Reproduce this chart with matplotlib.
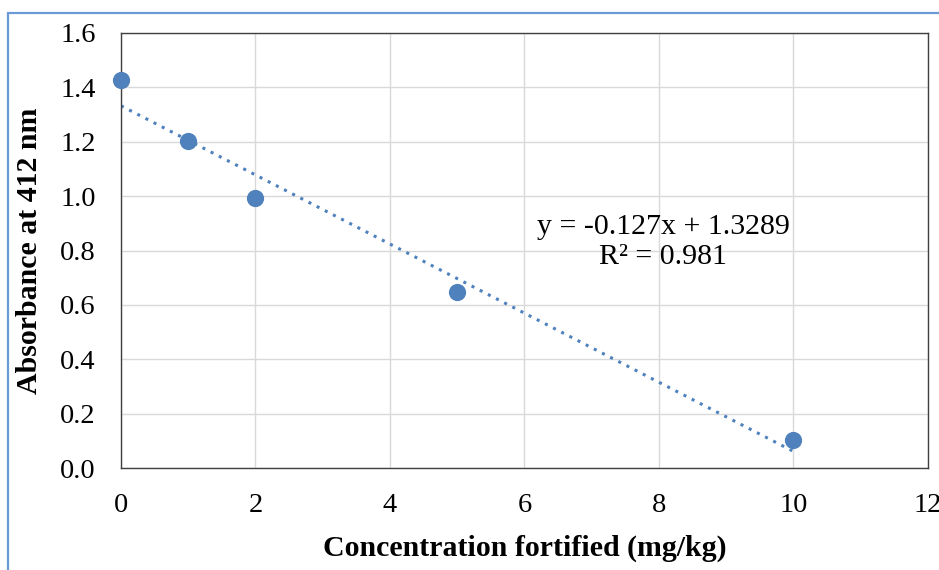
import matplotlib.pyplot as plt
from matplotlib.patches import Rectangle
import numpy as np

# data
conc = [0, 1, 2, 5, 10]
absorb = [1.427, 1.203, 0.993, 0.647, 0.103]
xticks = [0, 2, 4, 6, 8, 10, 12]
yticks = [0.0, 0.2, 0.4, 0.6, 0.8, 1.0, 1.2, 1.4, 1.6]

blue = '#4F81BD'
plt.rcParams['font.family'] = ['Liberation Serif', 'DejaVu Serif']

fig = plt.figure(figsize=(9.39, 5.70), dpi=100)
ax = fig.add_axes([121 / 939, 1 - 468 / 570, (928 - 121) / 939, (468 - 33) / 570])

# outer chart border (light blue)
fig.patches.append(Rectangle((8 / 939, -0.1), 1.2, 1 - 13 / 570 + 0.1,
                             transform=fig.transFigure, fill=False,
                             edgecolor='#6A9BD8', lw=1.6))

# linear trendline
slope, icept = np.polyfit(conc, absorb, 1)
xl = np.array([min(conc), max(conc)])
ax.plot(xl, slope * xl + icept, linestyle=(0, (1, 2)), color=blue, lw=2.2, zorder=2)

ax.scatter(conc, absorb, s=130, color=blue, zorder=3, clip_on=False)

ax.set_xlim(0, 12)
ax.set_ylim(0, 1.6)
ax.set_xticks(xticks)
ax.set_yticks(yticks)
ax.set_yticklabels([f'{v:.1f}' for v in yticks])
ax.tick_params(length=0, labelsize=20.5, pad=18)
ax.grid(True, color='#D9D9D9', lw=1)
ax.set_axisbelow(True)
for s in ax.spines.values():
    s.set_color('#404040')
    s.set_linewidth(1)

ax.set_xlabel('Concentration fortified (mg/kg)', fontsize=21.5, fontweight='bold')
ax.set_ylabel('Absorbance at 412 nm', fontsize=21.5, fontweight='bold')
ax.xaxis.set_label_coords(0.5, (468 - 548) / 435, transform=ax.transAxes)
ax.yaxis.set_label_coords((30 - 121) / 807, 0.5, transform=ax.transAxes)
for lbl in (ax.xaxis.label, ax.yaxis.label):
    lbl.set_va('center')

ax.text((663 - 121) / 807, (468 - 242) / 435, 'y = -0.127x + 1.3289\nR² = 0.981',
        fontsize=21.5, ha='center', va='center', linespacing=1.15,
        transform=ax.transAxes)

fig.savefig('out.png', dpi=100)
